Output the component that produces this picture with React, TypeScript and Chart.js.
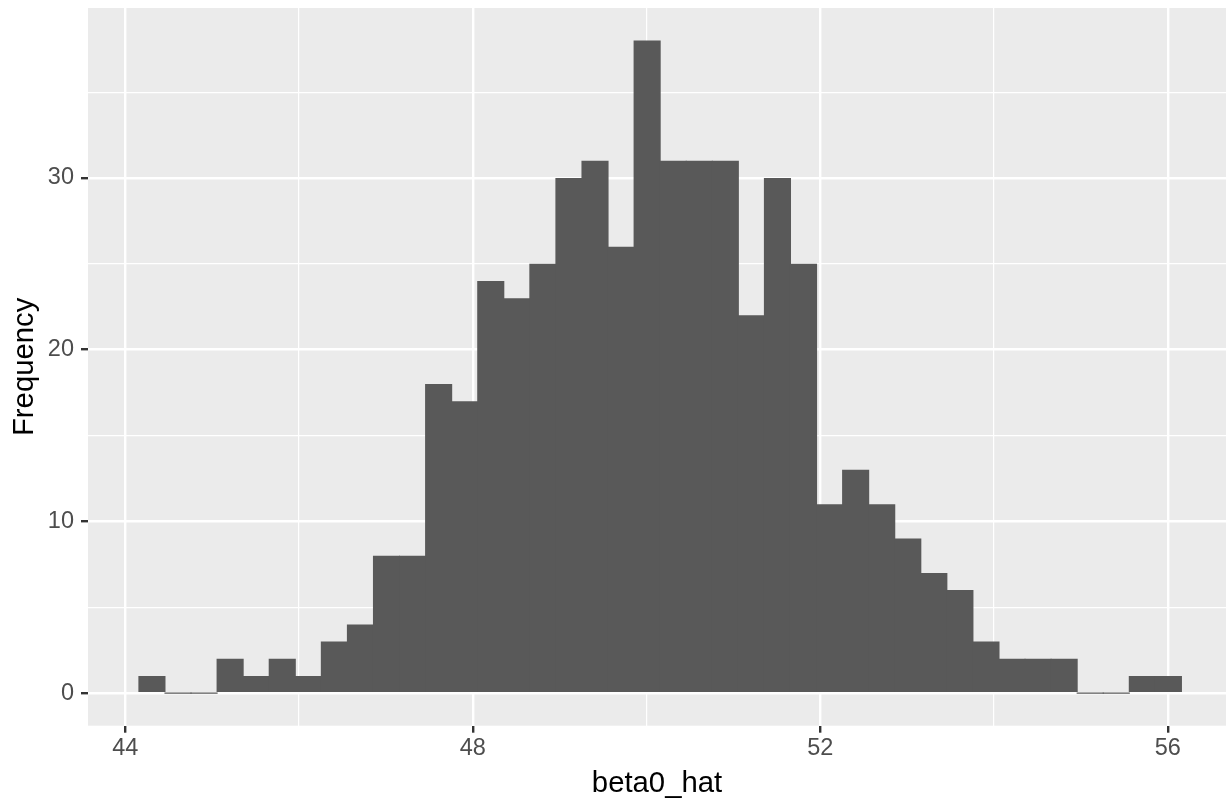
import React, { useEffect, useRef } from "react";
import { Chart, registerables } from "chart.js";

Chart.register(...registerables);

// Histogram of the simulated intercept estimates (40 bins, width 0.3)
const binStart = 44.157;
const binWidth = 0.3;
const counts = [
  1, 0, 0, 2, 1, 2, 1, 3, 4, 8,
  8, 18, 17, 24, 23, 25, 30, 31, 26, 38,
  31, 31, 31, 22, 30, 25, 11, 13, 11, 9,
  7, 6, 3, 2, 2, 2, 0, 0, 1, 1,
];

const xTicks = [44, 46, 48, 50, 52, 54, 56];
const xMajor = [44, 48, 52, 56];
const yTicks = [0, 5, 10, 15, 20, 25, 30, 35];
const yMajor = [0, 10, 20, 30];

const xRange = [43.571, 56.67];
const yRange = [-1.9, 39.9];

const xTitle = "beta0_hat";
const yTitle = "Frequency";

const FONT = '"Liberation Sans", Arial, Helvetica, sans-serif';

const panelBackground = {
  id: "panelBackground",
  beforeDraw(chart: any) {
    const { ctx, chartArea } = chart;
    ctx.save();
    ctx.fillStyle = "#EBEBEB";
    ctx.fillRect(
      chartArea.left,
      chartArea.top,
      chartArea.right - chartArea.left,
      chartArea.bottom - chartArea.top
    );
    ctx.restore();
  },
};

const axisTitles = {
  id: "axisTitles",
  afterDraw(chart: any) {
    const { ctx, chartArea, height } = chart;
    ctx.save();
    ctx.fillStyle = "#000000";
    ctx.font = `29.3px ${FONT}`;
    ctx.textAlign = "center";
    ctx.textBaseline = "alphabetic";
    ctx.fillText(xTitle, (chartArea.left + chartArea.right) / 2, height - 6.5);
    ctx.translate(33.3, (chartArea.top + chartArea.bottom) / 2);
    ctx.rotate(-Math.PI / 2);
    ctx.fillText(yTitle, 0, 0);
    ctx.restore();
  },
};

export default function App() {
  const canvasRef = useRef<HTMLCanvasElement | null>(null);

  useEffect(() => {
    const canvas = canvasRef.current;
    if (!canvas) return;

    const data = counts.map((c, i) => ({
      x: binStart + binWidth * (i + 0.5),
      y: c,
    }));

    const chart = new Chart(canvas, {
      type: "bar",
      data: {
        datasets: [
          {
            data: data as any,
            backgroundColor: "#595959",
            borderWidth: 0,
            barPercentage: 1.04,
            categoryPercentage: 1,
            minBarLength: 1.2,
          },
        ],
      },
      plugins: [panelBackground, axisTitles],
      options: {
        responsive: false,
        animation: false,
        devicePixelRatio: 1,
        events: [],
        layout: { padding: { left: 0, right: 0, top: 8, bottom: 0 } },
        plugins: {
          legend: { display: false },
          tooltip: { enabled: false },
          title: { display: false },
        },
        scales: {
          x: {
            type: "linear",
            min: xRange[0],
            max: xRange[1],
            offset: false,
            afterBuildTicks: (scale: any) => {
              scale.ticks = xTicks.map((v) => ({ value: v }));
            },
            afterFit: (scale: any) => {
              scale.height = 72.3;
              scale.paddingLeft = 0;
              scale.paddingRight = 0;
              scale.paddingTop = 0;
              scale.paddingBottom = 0;
            },
            grid: {
              offset: false,
              color: "#FFFFFF",
              lineWidth: (ctx: any) =>
                ctx.tick && xMajor.includes(ctx.tick.value) ? 2.4 : 1.2,
              drawTicks: true,
              tickLength: 7,
              tickWidth: 2.4,
              tickColor: (ctx: any) =>
                ctx.tick && xMajor.includes(ctx.tick.value)
                  ? "#333333"
                  : "rgba(0,0,0,0)",
            },
            border: { display: false },
            ticks: {
              autoSkip: false,
              maxRotation: 0,
              padding: 2,
              color: "#4D4D4D",
              font: { family: FONT, size: 23.5 },
              callback: (v: any) => (xMajor.includes(Number(v)) ? String(v) : ""),
            },
          },
          y: {
            type: "linear",
            min: yRange[0],
            max: yRange[1],
            afterBuildTicks: (scale: any) => {
              scale.ticks = yTicks.map((v) => ({ value: v }));
            },
            afterFit: (scale: any) => {
              scale.width = 88;
              scale.paddingLeft = 0;
              scale.paddingRight = 0;
              scale.paddingTop = 0;
              scale.paddingBottom = 0;
            },
            grid: {
              color: "#FFFFFF",
              lineWidth: (ctx: any) =>
                ctx.tick && yMajor.includes(ctx.tick.value) ? 2.4 : 1.2,
              drawTicks: true,
              tickLength: 7,
              tickWidth: 2.4,
              tickColor: (ctx: any) =>
                ctx.tick && yMajor.includes(ctx.tick.value)
                  ? "#333333"
                  : "rgba(0,0,0,0)",
            },
            border: { display: false },
            ticks: {
              autoSkip: false,
              padding: 7,
              color: "#4D4D4D",
              font: { family: FONT, size: 23.5 },
              callback: (v: any) => (yMajor.includes(Number(v)) ? String(v) : ""),
            },
          },
        },
      },
    });

    return () => chart.destroy();
  }, []);

  return (
    <div
      style={{
        position: "fixed",
        left: 0,
        top: 0,
        width: 1226,
        height: 798,
        background: "#FFFFFF",
      }}
    >
      <canvas ref={canvasRef} width={1226} height={798} />
    </div>
  );
}
